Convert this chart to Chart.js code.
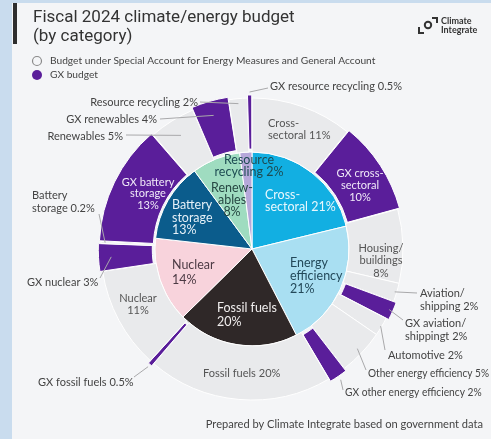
<!DOCTYPE html>
<html>
<head>
<meta charset="utf-8">
<script src="https://cdn.jsdelivr.net/npm/chart.js@4.4.0/dist/chart.umd.min.js"></script>
<style>
  html, body { margin: 0; padding: 0; background: #c9dcee; }
  canvas { display: block; }
</style>
</head>
<body>
<canvas id="budgetChart" width="491" height="439"></canvas>
<script>
// Inner pie: budget by category (%)
const categories = ["Cross-sectoral", "Energy efficiency", "Fossil fuels", "Nuclear", "Battery storage", "Renewables", "Resource recycling"];
const categoryShares = [21, 21, 20, 14, 13, 8, 2];
const categoryColors = ["#12afe2", "#a9dff2", "#2f2828", "#f8d3dc", "#0b5c8c", "#9fdcc0", "#b6a8da"];

// Outer ring: split into regular budget and GX budget (%)
const itemLabels = [
  "Cross-sectoral", "GX cross-sectoral", "Housing/buildings", "Aviation/shipping", "GX aviation/shipping",
  "Automotive", "Other energy efficiency", "GX other energy efficiency", "Fossil fuels", "GX fossil fuels",
  "Nuclear", "GX nuclear", "Battery storage", "GX battery storage", "Renewables", "GX renewables",
  "Resource recycling", "GX resource recycling"
];
const itemShares = [11, 10, 8, 2, 2, 2, 5, 2, 20, 0.5, 11, 3, 0.2, 13, 5, 4, 2, 0.5];
const itemIsGX = [false, true, false, false, true, false, false, true, false, true, false, true, false, true, false, true, false, true];

const PURPLE = "#5a1e9a";
const GRAY = "#e9eaec";

// label placement, relative to chart centre
const sliceLabels = [
  { lines: ["Resource", "recycling 2%"], dx: -3, dy: -89, gap: 12, align: "center", color: "#1d4b52", size: 13 },
  { lines: ["Renew-", "ables", "8%"], dx: -20, dy: -61, gap: 12, align: "center", color: "#274843", size: 13 },
  { lines: ["Cross-", "sectoral 21%"], dx: 13, dy: -54, gap: 12, align: "left", color: "#e8f7fd", size: 13 },
  { lines: ["Energy", "efficiency", "21%"], dx: 38, dy: 14, gap: 13, align: "left", color: "#23495a", size: 13 },
  { lines: ["Fossil fuels", "20%"], dx: -35, dy: 59, gap: 14, align: "left", color: "#f1eeee", size: 13 },
  { lines: ["Nuclear", "14%"], dx: -80, dy: 16, gap: 15, align: "left", color: "#4c3a44", size: 13 },
  { lines: ["Battery", "storage", "13%"], dx: -80, dy: -44, gap: 12.5, align: "left", color: "#e6f1f8", size: 13 },
  { lines: ["GX battery", "storage", "13%"], dx: -104, dy: -67, gap: 11.5, align: "center", color: "#f1eaf8", size: 11.5 },
  { lines: ["GX cross-", "sectoral", "10%"], dx: 108, dy: -76, gap: 12, align: "center", color: "#f1eaf8", size: 11.5 },
  { lines: ["Cross-", "sectoral 11%"], dx: 16, dy: -126, gap: 12, align: "left", color: "#555", size: 11.5 },
  { lines: ["Housing/", "buildings", "8%"], dx: 129, dy: -1, gap: 12.5, align: "center", color: "#555", size: 11.5 },
  { lines: ["Nuclear", "11%"], dx: -114, dy: 49, gap: 12, align: "center", color: "#555", size: 11.5 },
  { lines: ["Fossil fuels 20%"], dx: -49, dy: 124, gap: 12, align: "left", color: "#555", size: 11.5 }
];

// outside labels with leader lines: i = outer slice, r = radius where the line meets the slice
const calloutLabels = [
  { i: 17, lines: ["GX resource recycling 0.5%"], dx: 18, dy: -163, lx: 16, ly: -161, r: 151, align: "left" },
  { i: 16, lines: ["Resource recycling 2%"], dx: -54, dy: -147, lx: -52, ly: -147, r: 146, align: "right" },
  { i: 15, lines: ["GX renewables 4%"], dx: -95, dy: -130, lx: -92, ly: -130, r: 133, align: "right" },
  { i: 14, lines: ["Renewables 5%"], dx: -129, dy: -113, lx: -126, ly: -114, r: 134, align: "right" },
  { i: 12, lines: ["Battery", "storage 0.2%"], dx: -220, dy: -54, lx: -153, ly: -35, r: 147, align: "left" },
  { i: 11, lines: ["GX nuclear 3%"], dx: -225, dy: 33, lx: -152, ly: 29, r: 135, align: "left" },
  { i: 9, lines: ["GX fossil fuels 0.5%"], dx: -214, dy: 133, lx: -118, ly: 128, r: 151, align: "left" },
  { i: 3, lines: ["Aviation/", "shipping 2%"], dx: 168, dy: 44, lx: 165, ly: 44, r: 149, align: "left" },
  { i: 4, lines: ["GX aviation/", "shippingt 2%"], dx: 153, dy: 74, lx: 151, ly: 71, r: 144, align: "left" },
  { i: 5, lines: ["Automotive 2%"], dx: 136, dy: 106, lx: 133, ly: 101, r: 150, align: "left" },
  { i: 6, lines: ["Other energy efficiency 5%"], dx: 116, dy: 124, lx: 114, ly: 121, r: 145, align: "left", sx: 0.92 },
  { i: 7, lines: ["GX other energy efficiency 2%"], dx: 93, dy: 143, lx: 91, ly: 141, r: 152, align: "left", sx: 0.93 }
];

// draws text lines; sx squeezes the glyphs horizontally where Lato runs wider than the original font
function drawLines(c, lines, x, y, gap, align, color, size, weight, sx, family) {
  c.save();
  c.font = (weight || "normal") + " " + size + "px " + (family || "Lato");
  c.fillStyle = color;
  c.textAlign = align;
  c.textBaseline = "middle";
  c.translate(x, y);
  c.scale(sx || 1, 1);
  lines.forEach((t, k) => c.fillText(t, 0, k * gap));
  c.restore();
}

const framePlugin = {
  id: "frame",
  beforeDraw(chart) {
    const c = chart.ctx;
    c.save();
    c.fillStyle = "#c9dcee";
    c.fillRect(0, 0, 491, 439);
    c.fillStyle = "#f4f5f7";
    c.fillRect(12, 3, 479, 436);
    c.fillStyle = "#2e2e2e";
    c.fillRect(13, 3, 4, 41);

    // title
    drawLines(c, ["Fiscal 2024 climate/energy budget", "(by category)"], 33, 18, 19, "left", "#333", 17, "normal", 1, "Roboto");

    // legend
    c.lineWidth = 1.2;
    c.strokeStyle = "#8a8a8a";
    c.beginPath(); c.arc(37, 61, 4.5, 0, Math.PI * 2); c.stroke();
    c.fillStyle = PURPLE;
    c.beginPath(); c.arc(37, 75, 5, 0, Math.PI * 2); c.fill();
    drawLines(c, ["Budget under Special Account for Energy Measures and General Account"], 50, 61, 0, "left", "#444", 10.2);
    drawLines(c, ["GX budget"], 50, 75, 0, "left", "#444", 10.2);

    // logo
    c.strokeStyle = "#333";
    c.lineWidth = 2;
    c.beginPath(); c.moveTo(419, 27); c.lineTo(419, 33); c.lineTo(424, 33); c.stroke();
    c.beginPath(); c.arc(428, 25, 3.2, 0, Math.PI * 2); c.stroke();
    c.beginPath(); c.moveTo(432, 18); c.lineTo(437, 18); c.lineTo(437, 23); c.stroke();
    drawLines(c, ["Climate", "Integrate"], 441, 21, 9.5, "left", "#333", 9, "bold");

    // source
    drawLines(c, ["Prepared by Climate Integrate based on government data"], 483, 424, 0, "right", "#444", 11.1);
    c.restore();
  }
};

const labelPlugin = {
  id: "sliceLabels",
  afterDatasetsDraw(chart) {
    const c = chart.ctx;
    const ring = chart.getDatasetMeta(0).data;
    const cx = ring[0].x, cy = ring[0].y;
    c.save();
    sliceLabels.forEach(l => {
      drawLines(c, l.lines, cx + l.dx, cy + l.dy, l.gap, l.align, l.color, l.size, "normal", 0.96);
    });
    c.strokeStyle = "#a9a9ab";
    c.lineWidth = 1;
    calloutLabels.forEach(l => {
      const arc = ring[l.i];
      const mid = (arc.startAngle + arc.endAngle) / 2;
      const r = l.r + (arc.options.offset || 0);
      c.beginPath();
      c.moveTo(cx + Math.cos(mid) * r, cy + Math.sin(mid) * r);
      c.lineTo(cx + l.lx, cy + l.ly);
      c.stroke();
      drawLines(c, l.lines, cx + l.dx, cy + l.dy, 13, l.align, "#444", 11, "normal", l.sx || 1);
    });
    c.restore();
  }
};

const ctx = document.getElementById("budgetChart").getContext("2d");
new Chart(ctx, {
  type: "doughnut",
  data: {
    labels: itemLabels,
    datasets: [
      {
        label: "Budget items",
        data: itemShares,
        backgroundColor: itemIsGX.map(g => (g ? PURPLE : GRAY)),
        offset: itemIsGX.map(g => (g ? 6 : 0)),
        weight: 54,
        borderColor: "#ffffff",
        borderWidth: 1,
        hoverOffset: 6
      },
      {
        label: "Categories",
        data: categoryShares,
        backgroundColor: categoryColors,
        weight: 97,
        borderColor: "#ffffff",
        borderWidth: 1,
        hoverOffset: 6
      }
    ]
  },
  options: {
    responsive: false,
    animation: false,
    events: [],
    cutout: 0,
    radius: 151,
    layout: { padding: { left: 13, top: 59 } },
    plugins: {
      legend: { display: false },
      tooltip: { enabled: false }
    }
  },
  plugins: [framePlugin, labelPlugin]
});
</script>
</body>
</html>
